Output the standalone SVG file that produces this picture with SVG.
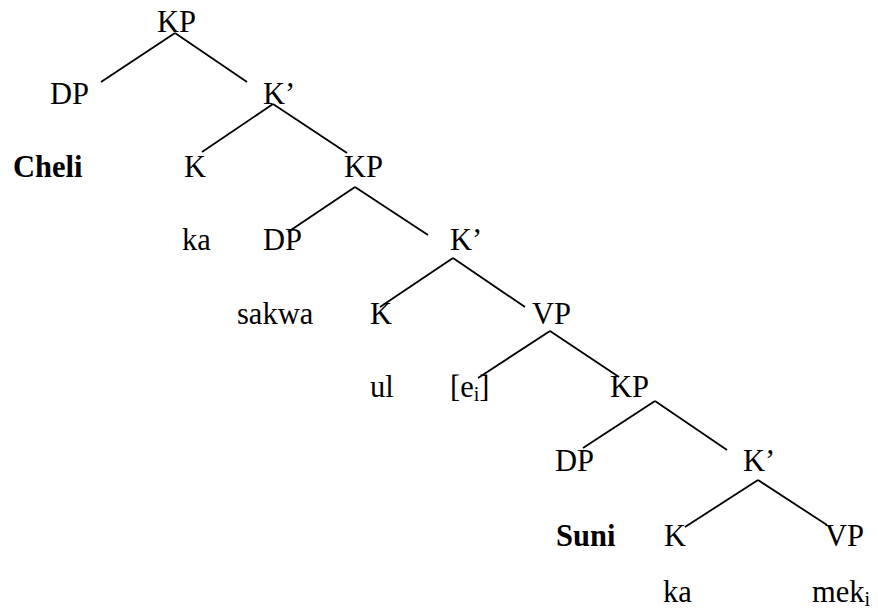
<svg xmlns="http://www.w3.org/2000/svg" width="878" height="612" viewBox="0 0 878 612">
<style>
text{font-family:"Liberation Serif","Times New Roman",serif;font-size:30.5px;fill:#000}
.b{font-weight:bold}
.sub{font-size:20px}
#connectors line{stroke:#000;stroke-width:1.8;stroke-linecap:butt}
</style>
<rect width="878" height="612" fill="#fff"/>
<g id="connectors">
<line x1="175" y1="33" x2="101" y2="82"/>
<line x1="175" y1="33" x2="247" y2="82"/>
<line x1="273" y1="104" x2="202" y2="152"/>
<line x1="273" y1="104" x2="347" y2="153"/>
<line x1="355" y1="187" x2="288" y2="232"/>
<line x1="355" y1="187" x2="428" y2="235"/>
<line x1="453" y1="258" x2="380" y2="307"/>
<line x1="453" y1="258" x2="525" y2="307"/>
<line x1="550" y1="331" x2="478" y2="378"/>
<line x1="550" y1="331" x2="619" y2="377"/>
<line x1="655" y1="401" x2="583" y2="448"/>
<line x1="655" y1="401" x2="727" y2="450"/>
<line x1="758" y1="480" x2="685" y2="527"/>
<line x1="758" y1="480" x2="827" y2="525"/>
</g>
<g id="kp1"><text x="157" y="32">KP</text></g>
<g id="dp1"><text x="50" y="104">DP</text></g>
<g id="kbar1"><text x="263" y="104">K’</text></g>
<g id="cheli"><text class="b" x="13" y="177">Cheli</text></g>
<g id="k1"><text x="184" y="177">K</text></g>
<g id="kp2"><text x="344" y="177">KP</text></g>
<g id="ka1"><text x="182" y="250">ka</text></g>
<g id="dp2"><text x="263" y="250">DP</text></g>
<g id="kbar2"><text x="450" y="250">K’</text></g>
<g id="sakwa"><text x="237" y="324">sakwa</text></g>
<g id="k2"><text x="370" y="324">K</text></g>
<g id="vp1"><text x="532" y="324">VP</text></g>
<g id="ul"><text x="370" y="397">ul</text></g>
<g id="ei"><text x="450" y="397">[e<tspan class="sub" dy="4">i</tspan><tspan dy="-4">]</tspan></text></g>
<g id="kp3"><text x="610" y="397">KP</text></g>
<g id="dp3"><text x="555" y="471">DP</text></g>
<g id="kbar3"><text x="743" y="471">K’</text></g>
<g id="suni"><text class="b" x="556" y="546">Suni</text></g>
<g id="k3"><text x="664" y="546">K</text></g>
<g id="vp2"><text x="825" y="546">VP</text></g>
<g id="ka2"><text x="663" y="602">ka</text></g>
<g id="meki"><text x="812" y="602">mek<tspan class="sub" dy="4">i</tspan></text></g>
</svg>
